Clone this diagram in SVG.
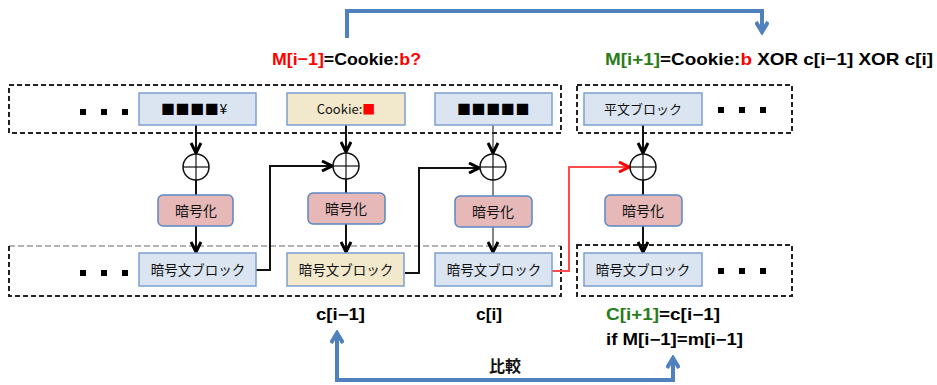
<svg xmlns="http://www.w3.org/2000/svg" width="937" height="385" viewBox="0 0 937 385">
  <style>
    .frame { fill: none; stroke: #222; stroke-width: 2; stroke-dasharray: 5 3; }
    .frame-thin { fill: none; stroke: #666; stroke-width: 1; stroke-dasharray: 6 3; }
    .blk { fill: #dbe5f1; stroke: #7b9fd0; stroke-width: 1.5; }
    .blk-b { fill: #f2e8cb; stroke: #7b9fd0; stroke-width: 1.5; }
    .enc { fill: #e6b8b7; stroke: #5b87c5; stroke-width: 1.5; }
    .xor { fill: #fff; stroke: #111; stroke-width: 1.5; }
    .xl { stroke: #111; stroke-width: 1.2; }
    .dot { fill: #000; }
    .ln { fill: none; stroke: #111; stroke-width: 2; }
    .ln-t { fill: none; stroke: #333; stroke-width: 1.2; }
    .red { fill: none; stroke: #ff4b4b; stroke-width: 2; }
    .blue { fill: none; stroke: #4f81bd; stroke-width: 4; }
    .jp { font-family: "Noto Sans CJK JP", sans-serif; fill: #111; }
    .sq { font-family: "Noto Sans CJK JP", sans-serif; fill: #000; font-size: 14px; letter-spacing: 0.6px; }
    .lbl { font-family: "Liberation Sans", Arial, sans-serif; font-weight: bold; fill: #000; }
    .r { fill: #ff0000; }
    .g { fill: #2a7d1a; }
  </style>
  <defs>
    <marker id="ah" markerUnits="userSpaceOnUse" viewBox="0 0 12 12" refX="11" refY="6" markerWidth="12" markerHeight="12" orient="auto">
      <path d="M1,1 L11,6 L1,11" fill="none" stroke="#000" stroke-width="3"/>
    </marker>
    <marker id="ah-red" markerUnits="userSpaceOnUse" viewBox="0 0 12 12" refX="11" refY="6" markerWidth="12" markerHeight="12" orient="auto">
      <path d="M1,1 L11,6 L1,11" fill="none" stroke="#ff0000" stroke-width="3"/>
    </marker>
    <marker id="ah-blue" markerUnits="userSpaceOnUse" viewBox="0 0 14 14" refX="11" refY="7" markerWidth="14" markerHeight="14" orient="auto-start-reverse">
      <path d="M1,1 L11,7 L1,13" fill="none" stroke="#4f81bd" stroke-width="4"/>
    </marker>
  </defs>

  <!-- block containers -->
  <g id="frame-plain-left">
    <rect class="frame" x="9" y="85" width="552" height="48"/>
  </g>
  <g id="frame-plain-right">
    <rect class="frame" x="577" y="85" width="215" height="48"/>
  </g>
  <g id="frame-cipher-left">
    <line class="frame-thin" x1="9" y1="246" x2="561" y2="246"/>
    <path class="frame" d="M9,246 V296 H561 V246"/>
  </g>
  <g id="frame-cipher-right">
    <rect class="frame" x="577" y="245" width="215" height="51"/>
  </g>

  <!-- ellipsis dots -->
  <g id="dots-top-left">
    <rect class="dot" x="80" y="109" width="6" height="6"/>
    <rect class="dot" x="101" y="109" width="6" height="6"/>
    <rect class="dot" x="122" y="109" width="6" height="6"/>
  </g>
  <g id="dots-top-right">
    <rect class="dot" x="718" y="107" width="6" height="6"/>
    <rect class="dot" x="739" y="107" width="6" height="6"/>
    <rect class="dot" x="760" y="107" width="6" height="6"/>
  </g>
  <g id="dots-bottom-left">
    <rect class="dot" x="80" y="270" width="6" height="6"/>
    <rect class="dot" x="101" y="270" width="6" height="6"/>
    <rect class="dot" x="122" y="270" width="6" height="6"/>
  </g>
  <g id="dots-bottom-right">
    <rect class="dot" x="718" y="268" width="6" height="6"/>
    <rect class="dot" x="739" y="268" width="6" height="6"/>
    <rect class="dot" x="760" y="268" width="6" height="6"/>
  </g>

  <!-- connectors -->
  <g id="connectors">
    <path class="ln" d="M196,125 V153" marker-end="url(#ah)"/>
    <path class="ln" d="M196,180 V195"/>
    <path class="ln" d="M196,226 V252" marker-end="url(#ah)"/>

    <path class="ln" d="M346,125 V152" marker-end="url(#ah)"/>
    <path class="ln" d="M346,179 V193"/>
    <path class="ln" d="M346,224 V252" marker-end="url(#ah)"/>

    <path class="ln-t" d="M493,125 V153" marker-end="url(#ah)"/>
    <path class="ln-t" d="M493,180 V196"/>
    <path class="ln-t" d="M493,227 V252" marker-end="url(#ah)"/>

    <path class="ln" d="M643,125 V153" marker-end="url(#ah)"/>
    <path class="ln" d="M643,180 V195"/>
    <path class="ln" d="M643,226 V252" marker-end="url(#ah)"/>

    <path class="ln" d="M256,270 H270 V166 H332" marker-end="url(#ah)"/>
    <path class="ln" d="M405,273 H419 V168 H479" marker-end="url(#ah)"/>
    <path class="red" d="M552,271 H569 V167 H629" marker-end="url(#ah-red)"/>

    <path class="blue" d="M347,38 V11 H762 V32" marker-end="url(#ah-blue)"/>
    <path class="blue" d="M337,333 V380 H673 V358" marker-start="url(#ah-blue)" marker-end="url(#ah-blue)"/>
  </g>

  <!-- plaintext blocks -->
  <g id="p1">
    <rect class="blk" x="139" y="93" width="117" height="32"/>
    <text class="sq" x="161" y="114">■■■■<tspan letter-spacing="0">¥</tspan></text>
  </g>
  <g id="p2">
    <rect class="blk-b" x="287" y="93" width="118" height="32"/>
    <text class="jp" x="346" y="114" font-size="13" text-anchor="middle">Cookie:<tspan class="r">■</tspan></text>
  </g>
  <g id="p3">
    <rect class="blk" x="435" y="93" width="117" height="32"/>
    <text class="sq" x="457" y="114">■■■■■</text>
  </g>
  <g id="p4">
    <rect class="blk" x="584" y="93" width="118" height="32"/>
    <text class="jp" x="643" y="114" font-size="13" text-anchor="middle">平文ブロック</text>
  </g>

  <!-- XOR operators -->
  <g id="x1">
    <circle class="xor" cx="196" cy="167" r="13"/>
    <line class="xl" x1="183" y1="167" x2="209" y2="167"/>
    <line class="xl" x1="196" y1="154" x2="196" y2="180"/>
  </g>
  <g id="x2">
    <circle class="xor" cx="346" cy="166" r="13"/>
    <line class="xl" x1="333" y1="166" x2="359" y2="166"/>
    <line class="xl" x1="346" y1="153" x2="346" y2="179"/>
  </g>
  <g id="x3">
    <circle class="xor" cx="493" cy="167" r="13"/>
    <line class="xl" x1="480" y1="167" x2="506" y2="167"/>
    <line class="xl" x1="493" y1="154" x2="493" y2="180"/>
  </g>
  <g id="x4">
    <circle class="xor" cx="643" cy="167" r="13"/>
    <line class="xl" x1="630" y1="167" x2="656" y2="167"/>
    <line class="xl" x1="643" y1="154" x2="643" y2="180"/>
  </g>

  <!-- encryption steps -->
  <g id="e1">
    <rect class="enc" x="158" y="195" width="75" height="31" rx="5"/>
    <text class="jp" x="196" y="216" font-size="14" text-anchor="middle">暗号化</text>
  </g>
  <g id="e2">
    <rect class="enc" x="308" y="193" width="77" height="31" rx="5"/>
    <text class="jp" x="346" y="214" font-size="14" text-anchor="middle">暗号化</text>
  </g>
  <g id="e3">
    <rect class="enc" x="455" y="196" width="77" height="31" rx="5"/>
    <text class="jp" x="493" y="217" font-size="14" text-anchor="middle">暗号化</text>
  </g>
  <g id="e4">
    <rect class="enc" x="605" y="195" width="77" height="31" rx="5"/>
    <text class="jp" x="643" y="216" font-size="14" text-anchor="middle">暗号化</text>
  </g>

  <!-- ciphertext blocks -->
  <g id="c1">
    <rect class="blk" x="139" y="253" width="117" height="33"/>
    <text class="jp" x="198" y="275" font-size="13.5" text-anchor="middle">暗号文ブロック</text>
  </g>
  <g id="c2">
    <rect class="blk-b" x="287" y="253" width="117" height="33"/>
    <text class="jp" x="346" y="275" font-size="13.5" text-anchor="middle">暗号文ブロック</text>
  </g>
  <g id="c3">
    <rect class="blk" x="435" y="253" width="117" height="33"/>
    <text class="jp" x="494" y="275" font-size="13.5" text-anchor="middle">暗号文ブロック</text>
  </g>
  <g id="c4">
    <rect class="blk" x="584" y="253" width="118" height="33"/>
    <text class="jp" x="643" y="275" font-size="13.5" text-anchor="middle">暗号文ブロック</text>
  </g>

  <!-- labels -->
  <g id="labels">
    <text class="lbl" x="272" y="65" font-size="17" textLength="149" lengthAdjust="spacingAndGlyphs"><tspan class="r">M[i−1]</tspan>=Cookie:<tspan class="r">b?</tspan></text>
    <text class="lbl" x="605" y="65" font-size="17" textLength="328" lengthAdjust="spacingAndGlyphs"><tspan class="g">M[i+1]</tspan>=Cookie:<tspan class="r">b</tspan> XOR c[i−1] XOR c[i]</text>
    <text class="lbl" x="316" y="320" font-size="16" textLength="49" lengthAdjust="spacingAndGlyphs">c[i−1]</text>
    <text class="lbl" x="476" y="320" font-size="16" textLength="26" lengthAdjust="spacingAndGlyphs">c[i]</text>
    <text class="lbl" x="606" y="320" font-size="16" textLength="114" lengthAdjust="spacingAndGlyphs"><tspan class="g">C[i+1]</tspan>=c[i−1]</text>
    <text class="lbl" x="606" y="345" font-size="16" textLength="137" lengthAdjust="spacingAndGlyphs">if M[i−1]=m[i−1]</text>
    <text class="jp" x="505" y="372" font-size="16" font-weight="bold" text-anchor="middle">比較</text>
  </g>
</svg>
